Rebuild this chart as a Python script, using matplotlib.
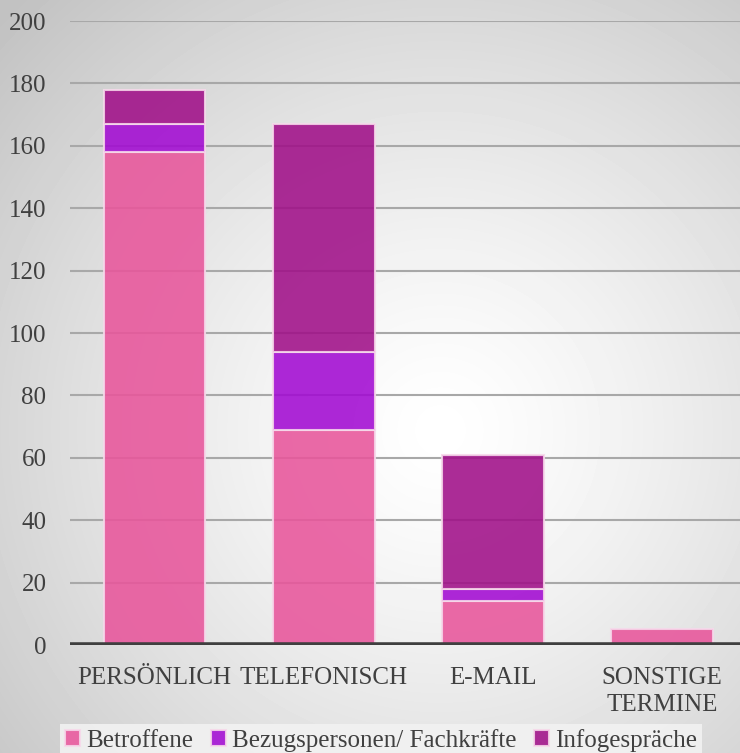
import numpy as np
import matplotlib.pyplot as plt

categories = ["PERSÖNLICH", "TELEFONISCH", "E-MAIL", "SONSTIGE\nTERMINE"]
betroffene = [158, 69, 14, 5]
bezugspersonen = [9, 25, 4, 0]
infogespraeche = [11, 73, 43, 0]

plt.rcParams['font.family'] = ['Liberation Serif', 'DejaVu Serif']

fig = plt.figure(figsize=(7.4, 7.53), dpi=100)

# radial gradient background
bg = fig.add_axes([0, 0, 1, 1], zorder=-10)
yy, xx = np.mgrid[0:753, 0:740]
cx, cy = 440, 430
r = np.sqrt((xx - cx) ** 2 + (yy - cy) ** 2) / 600.0
v = 1.0 - 0.24 * np.clip(r, 0, 1) ** 1.3
bg.imshow(v, cmap='gray', vmin=0, vmax=1, aspect='auto', interpolation='bilinear')
bg.axis('off')

ax = fig.add_axes([0.0946, 0.1434, 0.9054, 0.8287])
ax.patch.set_alpha(0)

x = np.arange(len(categories))
w = 0.6
edge = dict(edgecolor='#f6d8ea', linewidth=1.5, alpha=0.88, zorder=3)
b1 = ax.bar(x, betroffene, w, color='#e8559b', label='Betroffene', **edge)
bottom2 = np.array(betroffene)
b2 = ax.bar(x, bezugspersonen, w, bottom=bottom2, color='#a20ad2',
            label='Bezugspersonen/ Fachkräfte', **edge)
bottom3 = bottom2 + np.array(bezugspersonen)
b3 = ax.bar(x, infogespraeche, w, bottom=bottom3, color='#a00f88',
            label='Infogespräche', **edge)
# hide empty segments
for bars, vals in ((b2, bezugspersonen), (b3, infogespraeche)):
    for bar, val in zip(bars, vals):
        if val == 0:
            bar.set_visible(False)

ax.set_ylim(0, 200)
ax.set_xlim(-0.5, 3.46)
ax.set_yticks(range(0, 201, 20))
ax.yaxis.grid(True, color='#a8a8a8', linewidth=1.5, zorder=1)
ax.set_axisbelow(True)
ax.axhline(0, color='#3f3f3f', linewidth=4, zorder=4)
for s in ax.spines.values():
    s.set_visible(False)
ax.tick_params(axis='y', length=0, pad=17, labelsize=18, labelcolor='#404040')
ax.tick_params(axis='x', length=0, pad=16, labelsize=18, labelcolor='#404040')
ax.set_xticks(x)
ax.set_xticklabels(categories, linespacing=1.3)

leg = fig.legend(loc='lower center', bbox_to_anchor=(0.515, -0.022), ncol=3,
                 frameon=True, fancybox=False, fontsize=18, handlelength=0.6,
                 handleheight=0.6, handletextpad=0.25, columnspacing=0.7,
                 borderpad=0.2, labelcolor='#404040')
leg.get_frame().set_facecolor('#f2f2f2')
leg.get_frame().set_edgecolor('none')
leg.get_frame().set_alpha(0.9)

fig.savefig('out.png', dpi=100)
